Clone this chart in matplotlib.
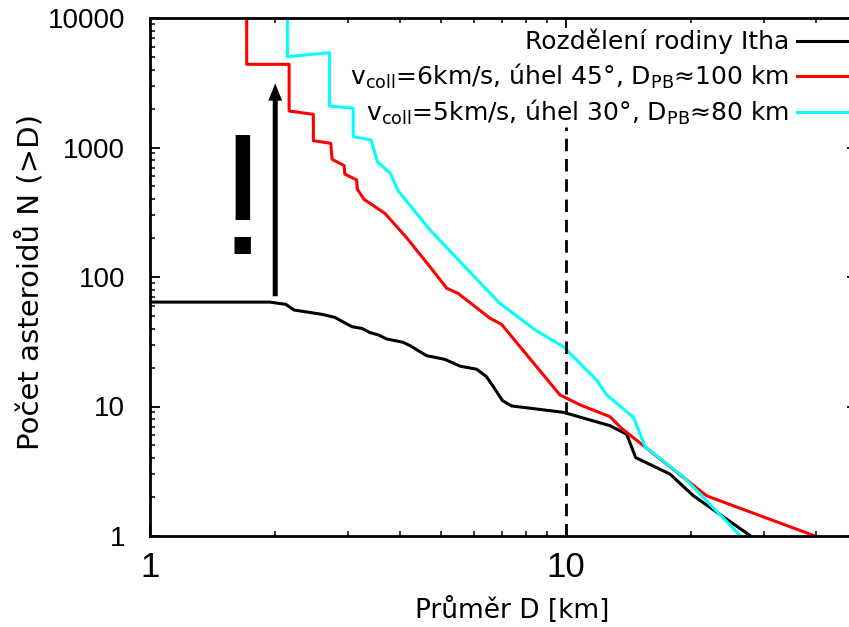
import matplotlib
matplotlib.use('Agg')
import matplotlib.pyplot as plt
from matplotlib.ticker import LogLocator, NullFormatter
from matplotlib.patches import ArrowStyle

# cumulative size distributions N(>D)
itha_d = [1.0, 1.94, 2.12, 2.22, 2.38, 2.59, 2.78, 3.06, 3.23, 3.38, 3.54,
          3.71, 4.06, 4.22, 4.62, 4.80, 5.12, 5.56, 6.10, 6.44, 6.69, 7.04,
          7.40, 9.85, 12.76, 14.0, 14.71, 17.78, 20.23, 27.8]
itha_n = [64, 64, 61.5, 55.6, 53.7, 51.5, 48.8, 41.3, 40.1, 37.2, 35.7,
          33.2, 31.3, 29.5, 24.7, 24.1, 23.1, 20.5, 19.4, 17.0, 14.2, 11.1,
          10.1, 9.02, 7.11, 6.10, 4.03, 3.01, 2.05, 1.0]

sim45_d = [1.708, 1.708, 2.16, 2.16, 2.47, 2.47, 2.72, 2.74, 2.93, 2.94,
           3.14, 3.15, 3.27, 3.67, 4.14, 4.71, 5.17, 5.50, 6.57, 7.00, 9.67,
           10.81, 12.76, 13.6, 21.8, 39.7]
sim45_n = [10000, 4388, 4388, 1914, 1803, 1129, 1077, 811, 724, 624, 561,
           478, 398, 310, 201, 120, 81.8, 74.8, 48, 43.1, 12.3, 10.3, 8.34,
           6.79, 2.04, 1.0]

sim30_d = [2.14, 2.14, 2.70, 2.70, 3.08, 3.08, 3.40, 3.52, 3.78, 3.95, 4.71,
           6.90, 8.43, 9.85, 11.85, 12.52, 14.52, 15.06, 15.49, 16.83, 19.14,
           26.3]
sim30_n = [12000, 5024, 5397, 2091, 2009, 1211, 1143, 777, 632, 463, 231,
           63.5, 39, 29, 16.0, 12.3, 8.26, 6.21, 4.89, 3.98, 2.87, 1.0]

labels = ['Rozdělení rodiny Itha',
          r'v$_\mathregular{coll}$=6km/s, úhel 45°, D$_\mathregular{PB}$≈100 km',
          r'v$_\mathregular{coll}$=5km/s, úhel 30°, D$_\mathregular{PB}$≈80 km']

limit_d = 10
limit_n = [1, 1440]
arrow_d = 2.0
arrow_n = [71, 3130]
mark_pos = (1.67, 335)

xticks = [1, 10]
yticks = [1, 10, 100, 1000, 10000]
num_font = ['Liberation Sans', 'DejaVu Sans']

fig = plt.figure(figsize=(8.49, 6.27), dpi=100)
ax = fig.add_axes([150 / 849, 91 / 627, 706.7 / 849, 518 / 627])
ax.set_xscale('log')
ax.set_yscale('log')

ax.plot(itha_d, itha_n, color='black', lw=2.2, label=labels[0])
ax.plot(sim45_d, sim45_n, color='#ff0000', lw=2.2, label=labels[1])
ax.plot(sim30_d, sim30_n, color='#00ffff', lw=2.2, label=labels[2])
ax.plot([limit_d, limit_d], limit_n, color='black', lw=2.0,
        dashes=(4.5, 2.8))

ax.annotate('', xy=(arrow_d, arrow_n[1]), xytext=(arrow_d, arrow_n[0]),
            arrowprops=dict(arrowstyle=ArrowStyle.Simple(head_length=1.25,
                                                         head_width=1.0,
                                                         tail_width=0.36),
                            mutation_scale=10, color='black', lw=0,
                            shrinkA=0, shrinkB=0))
ax.text(mark_pos[0], mark_pos[1], '!', ha='center', va='center',
        fontsize=124, fontweight='normal', family=['Liberation Sans'])

ax.set_xlim(1, 50)
ax.set_ylim(1, 10000)

ax.set_xticks(xticks, [str(t) for t in xticks], fontsize=25, family=num_font)
ax.set_yticks(yticks, [str(t) for t in yticks], fontsize=20, family=num_font)
ax.xaxis.set_minor_locator(LogLocator(base=10, subs=range(2, 10)))
ax.yaxis.set_minor_locator(LogLocator(base=10, subs=range(2, 10)))
ax.xaxis.set_minor_formatter(NullFormatter())
ax.yaxis.set_minor_formatter(NullFormatter())
ax.tick_params(which='both', direction='in', top=True, right=True)
ax.tick_params(which='major', length=7, width=1.3)
ax.tick_params(which='minor', length=3.5, width=1.1)
ax.tick_params(axis='y', pad=18)
ax.tick_params(axis='x', pad=11)
for s in ax.spines.values():
    s.set_linewidth(2.0)

ax.set_xlabel('Průměr D [km]', fontsize=19)
ax.xaxis.set_label_coords((512 - 150) / 706.7, (536 - 597) / 518)
ax.set_ylabel('Počet asteroidů N (>D)', fontsize=21)
ax.yaxis.label.set_va('center')
ax.yaxis.set_label_coords((30 - 150) / 706.7, (536 - 282) / 518)

leg = ax.legend(loc='upper right', bbox_to_anchor=((847 - 150) / 706.7,
                                                   (536 - 29) / 518),
                markerfirst=False, frameon=False, fontsize=18,
                handlelength=2.0, handletextpad=0.3, labelspacing=0.28,
                borderaxespad=0, borderpad=0)

fig.savefig('out.png', dpi=100)
